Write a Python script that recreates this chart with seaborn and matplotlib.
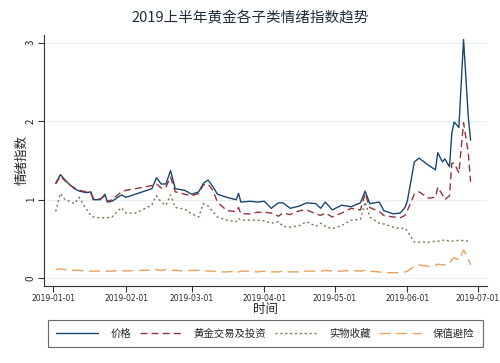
import pandas as pd
import matplotlib
matplotlib.use("Agg")
import matplotlib.pyplot as plt
import seaborn as sns

dates = [
    "2019-01-02", "2019-01-04", "2019-01-06", "2019-01-08", "2019-01-10", "2019-01-12",
    "2019-01-15", "2019-01-17", "2019-01-18", "2019-01-21", "2019-01-23", "2019-01-24",
    "2019-01-26", "2019-01-30",
    "2019-02-01", "2019-02-05", "2019-02-12", "2019-02-13", "2019-02-14", "2019-02-16",
    "2019-02-18", "2019-02-20", "2019-02-22", "2019-02-26",
    "2019-03-01", "2019-03-04", "2019-03-06", "2019-03-08", "2019-03-10", "2019-03-12",
    "2019-03-16", "2019-03-20", "2019-03-21", "2019-03-22", "2019-03-26", "2019-03-29",
    "2019-04-01", "2019-04-04", "2019-04-07", "2019-04-09", "2019-04-12", "2019-04-16",
    "2019-04-19", "2019-04-23", "2019-04-25", "2019-04-27", "2019-04-30",
    "2019-05-04", "2019-05-08", "2019-05-12", "2019-05-14", "2019-05-16", "2019-05-20",
    "2019-05-22", "2019-05-26", "2019-05-29", "2019-05-31",
    "2019-06-01", "2019-06-04", "2019-06-06", "2019-06-10", "2019-06-13", "2019-06-14",
    "2019-06-16", "2019-06-17", "2019-06-19", "2019-06-20", "2019-06-21", "2019-06-23",
    "2019-06-25", "2019-06-27", "2019-06-28",
]

price = [
    1.21, 1.32, 1.25, 1.19, 1.14, 1.11, 1.09, 1.10, 1.00, 1.00, 1.07, 0.97, 0.98, 1.06,
    1.03, 1.07, 1.14, 1.21, 1.28, 1.20, 1.20, 1.37, 1.14, 1.12,
    1.07, 1.10, 1.21, 1.25, 1.17, 1.07, 1.03, 1.00, 1.08, 0.97, 0.98, 0.97,
    0.98, 0.89, 0.96, 0.96, 0.89, 0.92, 0.96, 0.95, 0.89, 0.97, 0.87,
    0.93, 0.91, 0.96, 1.11, 0.95, 0.97, 0.86, 0.82, 0.83, 0.90,
    0.98, 1.48, 1.53, 1.44, 1.38, 1.60, 1.48, 1.52, 1.42, 1.85, 1.99, 1.92,
    3.04, 2.06, 1.76,
]

trade = [
    1.20, 1.30, 1.24, 1.19, 1.15, 1.12, 1.10, 1.08, 1.02, 1.01, 1.05, 0.98, 1.00, 1.10,
    1.12, 1.14, 1.18, 1.20, 1.20, 1.15, 1.16, 1.29, 1.10, 1.07,
    1.05, 1.08, 1.19, 1.20, 1.12, 0.97, 0.86, 0.85, 0.90, 0.82, 0.82, 0.84,
    0.84, 0.83, 0.79, 0.83, 0.81, 0.86, 0.87, 0.82, 0.80, 0.83, 0.78,
    0.83, 0.89, 0.87, 1.08, 0.90, 0.85, 0.80, 0.78, 0.77, 0.80,
    0.86, 1.07, 1.10, 1.02, 1.03, 1.16, 1.06, 1.00, 1.05, 1.46, 1.47, 1.34,
    1.98, 1.60, 1.23,
]

collect = [
    0.85, 1.08, 1.00, 0.98, 0.95, 1.03, 0.88, 0.80, 0.78, 0.77, 0.77, 0.77, 0.78, 0.90,
    0.83, 0.83, 0.93, 1.00, 1.05, 0.97, 0.93, 1.06, 0.90, 0.88,
    0.82, 0.78, 0.95, 0.92, 0.85, 0.78, 0.74, 0.72, 0.76, 0.74, 0.74, 0.74,
    0.73, 0.70, 0.72, 0.66, 0.65, 0.67, 0.72, 0.66, 0.70, 0.66, 0.63,
    0.67, 0.74, 0.75, 0.97, 0.78, 0.70, 0.69, 0.65, 0.63, 0.64,
    0.60, 0.46, 0.46, 0.46, 0.47, 0.47, 0.48, 0.49, 0.47, 0.47, 0.48, 0.48,
    0.48, 0.47, 0.46,
]

hedge = [
    0.11, 0.12, 0.11, 0.10, 0.10, 0.10, 0.09, 0.09, 0.09, 0.09, 0.09, 0.09, 0.09, 0.10,
    0.09, 0.10, 0.10, 0.11, 0.11, 0.10, 0.11, 0.10, 0.10, 0.09,
    0.10, 0.10, 0.10, 0.09, 0.09, 0.08, 0.08, 0.09, 0.08, 0.09, 0.09, 0.08,
    0.09, 0.08, 0.08, 0.09, 0.08, 0.08, 0.09, 0.09, 0.09, 0.10, 0.09,
    0.09, 0.10, 0.09, 0.10, 0.09, 0.08, 0.07, 0.07, 0.07, 0.08,
    0.09, 0.15, 0.17, 0.15, 0.16, 0.18, 0.17, 0.17, 0.18, 0.24, 0.26, 0.23,
    0.36, 0.25, 0.17,
]

series_names = ["价格", "黄金交易及投资", "实物收藏", "保值避险"]
colors = ["#1a476f", "#90353b", "#6b7f52", "#e8a25e"]
styles = ["-", (0, (5, 3)), (0, (1.5, 2)), (0, (8, 4))]
tick_dates = ["2019-01-01", "2019-02-01", "2019-03-01", "2019-04-01",
              "2019-05-01", "2019-06-01", "2019-07-01"]


def main():
    sns.set_style("white")
    plt.rcParams["font.family"] = ["Noto Sans CJK SC", "DejaVu Sans"]

    df = pd.DataFrame({"date": pd.to_datetime(dates)})
    for name, vals in zip(series_names, [price, trade, collect, hedge]):
        df[name] = vals

    fig = plt.figure(figsize=(5, 3.63), dpi=100)
    ax = fig.add_axes([0.088, 0.212, 0.886, 0.692])

    for name, c, ls in zip(series_names, colors, styles):
        sns.lineplot(x="date", y=name, data=df, ax=ax, color=c,
                     linestyle=ls, linewidth=1.0, label=name)

    ax.set_ylim(-0.1, 3.1)
    ax.set_xlim(pd.Timestamp("2018-12-28"), pd.Timestamp("2019-07-05"))
    ax.set_yticks([0, 1, 2, 3])
    ax.set_yticklabels(["0", "1", "2", "3"], rotation=90, va="center", fontsize=7)
    ax.yaxis.grid(True, color="#e8eef2", linewidth=0.8)
    ax.xaxis.grid(False)

    ax.set_xticks(pd.to_datetime(tick_dates))
    ax.set_xticklabels(tick_dates, fontsize=5.5, family="DejaVu Sans")
    ax.tick_params(axis="both", direction="out", length=4, width=0.8,
                   color="#333333", bottom=True, left=True, pad=2)

    for side in ["top", "right"]:
        ax.spines[side].set_visible(False)
    for side in ["left", "bottom"]:
        ax.spines[side].set_color("#333333")
        ax.spines[side].set_linewidth(0.8)

    ax.set_xlabel("时间", fontsize=9, labelpad=0)
    ax.set_ylabel("情绪指数", fontsize=9)
    ax.yaxis.set_label_coords(-0.035, 0.5)
    fig.suptitle("2019上半年黄金各子类情绪指数趋势", fontsize=10.5,
                 color="#1f2d3d", y=0.968)

    ax.get_legend().remove()
    handles, labels = ax.get_legend_handles_labels()
    leg = fig.legend(handles, labels, loc="center", ncol=4,
                     bbox_to_anchor=(0.531, 0.081), fontsize=7.5,
                     handlelength=4, handletextpad=1.2, columnspacing=0.8,
                     frameon=True, fancybox=False, borderpad=0.8)
    leg.get_frame().set_edgecolor("#444444")
    leg.get_frame().set_linewidth(0.8)

    fig.savefig("out.png", dpi=100)
    plt.close(fig)


if __name__ == "__main__":
    main()
